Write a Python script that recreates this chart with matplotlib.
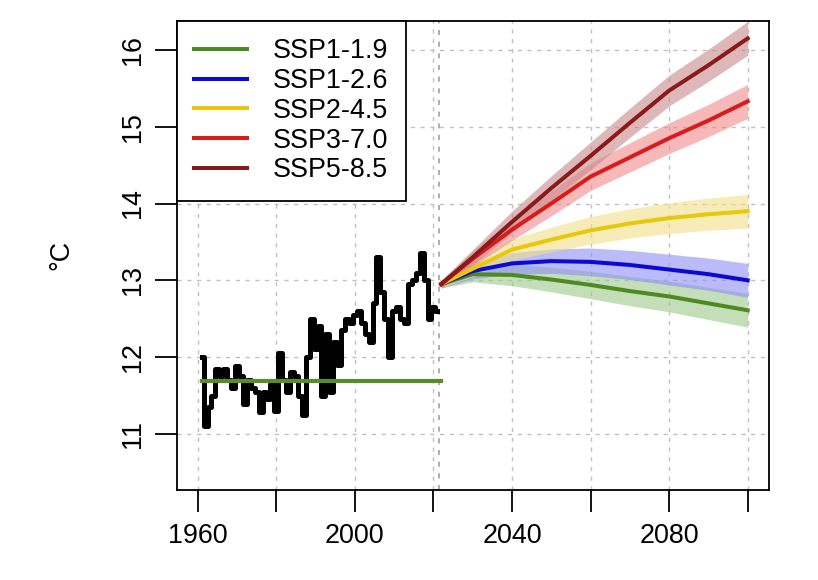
import numpy as np
import matplotlib
matplotlib.use("Agg")
import matplotlib.pyplot as plt

plt.rcParams['font.family'] = ['Liberation Sans', 'DejaVu Sans']

# observed annual mean temperature 1961-2021
hist_years = list(range(1961, 2022))
hist_temp = [12.0, 11.1, 11.35, 11.5, 11.85, 11.75, 11.85, 11.7, 11.6, 11.88,
             11.75, 11.39, 11.7, 11.6, 11.55, 11.28, 11.55, 11.45, 11.65, 11.3,
             12.05, 11.7, 11.55, 11.8, 11.75, 11.5, 11.25, 12.0, 12.5, 12.1,
             12.4, 11.5, 12.3, 11.55, 12.2, 11.9, 12.35, 12.5, 12.45, 12.55,
             12.6, 12.45, 12.3, 12.2, 12.7, 13.3, 12.85, 12.5, 12.0, 12.6,
             12.65, 12.5, 12.45, 12.95, 13.0, 13.1, 13.35, 13.0, 12.5, 12.65,
             12.6]
baseline = 11.69
baseline_years = [1961, 2022]

# scenario projections
proj_years = [2022, 2030, 2040, 2050, 2060, 2070, 2080, 2090, 2100]
scen_names = ['SSP1-1.9', 'SSP1-2.6', 'SSP2-4.5', 'SSP3-7.0', 'SSP5-8.5']
ssp119 = [12.95, 13.08, 13.07, 13.01, 12.94, 12.86, 12.79, 12.70, 12.61]
ssp126 = [12.95, 13.12, 13.22, 13.25, 13.24, 13.20, 13.14, 13.08, 13.00]
ssp245 = [12.95, 13.15, 13.40, 13.53, 13.65, 13.74, 13.81, 13.86, 13.90]
ssp370 = [12.95, 13.28, 13.66, 14.00, 14.35, 14.60, 14.85, 15.08, 15.33]
ssp585 = [12.95, 13.30, 13.76, 14.20, 14.62, 15.05, 15.47, 15.80, 16.15]
# half width of the uncertainty band
spread = [0.05, 0.10, 0.14, 0.16, 0.18, 0.19, 0.20, 0.21, 0.22]

scen_vals = [ssp119, ssp126, ssp245, ssp370, ssp585]
line_cols = ['#4e8a22', '#0a0ad0', '#e8c80a', '#d81c1c', '#8a1a1a']
band_cols = ['#9cc98a', '#8f8ff5', '#f2e08a', '#f08a8a', '#c98a8a']

fig = plt.figure(figsize=(8.18, 5.80), dpi=100)
ax = fig.add_axes([176.7/818, 1-490/580, (769.3-176.7)/818, (490-20.7)/580])

# grid
for gx in range(1960, 2101, 20):
    ax.axvline(gx, color='#c0c0c0', lw=1, ls=(0, (3, 4)), zorder=0)
for gy in range(11, 17):
    ax.axhline(gy, color='#c0c0c0', lw=1, ls=(0, (3, 4)), zorder=0)
ax.axvline(2021.5, color='#a0a0a0', lw=1.2, ls=(0, (3, 4)), zorder=0)

py = np.array(proj_years)
sp = np.array(spread)
for vals, lc, bc in zip(scen_vals, line_cols, band_cols):
    v = np.array(vals)
    ax.fill_between(py, v - sp, v + sp, color=bc, alpha=0.6, lw=0, zorder=1)
handles = []
for vals, lc, name in zip(scen_vals, line_cols, scen_names):
    h, = ax.plot(proj_years, vals, color=lc, lw=2.9, zorder=3, label=name)
    handles.append(h)

ax.plot(hist_years, hist_temp, color='black', lw=3.6, drawstyle='steps-mid', zorder=4)
ax.plot(baseline_years, [baseline, baseline], color='#5b8c2a', lw=3, zorder=5)

ax.set_xlim(1954.66, 2105.5)
ax.set_ylim(10.27, 16.38)
ax.set_xticks(range(1960, 2101, 20))
ax.set_xticklabels(['1960', '', '2000', '', '2040', '', '2080', ''])
ax.set_yticks(range(11, 17))
ax.set_yticklabels([str(v) for v in range(11, 17)], rotation=90, va='center')
ax.tick_params(axis='both', length=16, width=1.3, labelsize=19.4, colors='black')
ax.tick_params(axis='x', pad=7.5)
ax.tick_params(axis='y', pad=6)
for s in ax.spines.values():
    s.set_linewidth(1.3)

fig.text(61/818, 1-255/580, '°C', rotation=90, ha='center', va='center', fontsize=19.4)

leg = ax.legend(handles=handles, loc='upper left', borderaxespad=0, fontsize=19.4,
                handlelength=1.96, handletextpad=0.95, borderpad=0.65, labelspacing=0.14,
                fancybox=False, framealpha=1, edgecolor='black')
leg.get_frame().set_linewidth(1.3)
leg.set_zorder(10)

fig.savefig('out.png', dpi=100)
